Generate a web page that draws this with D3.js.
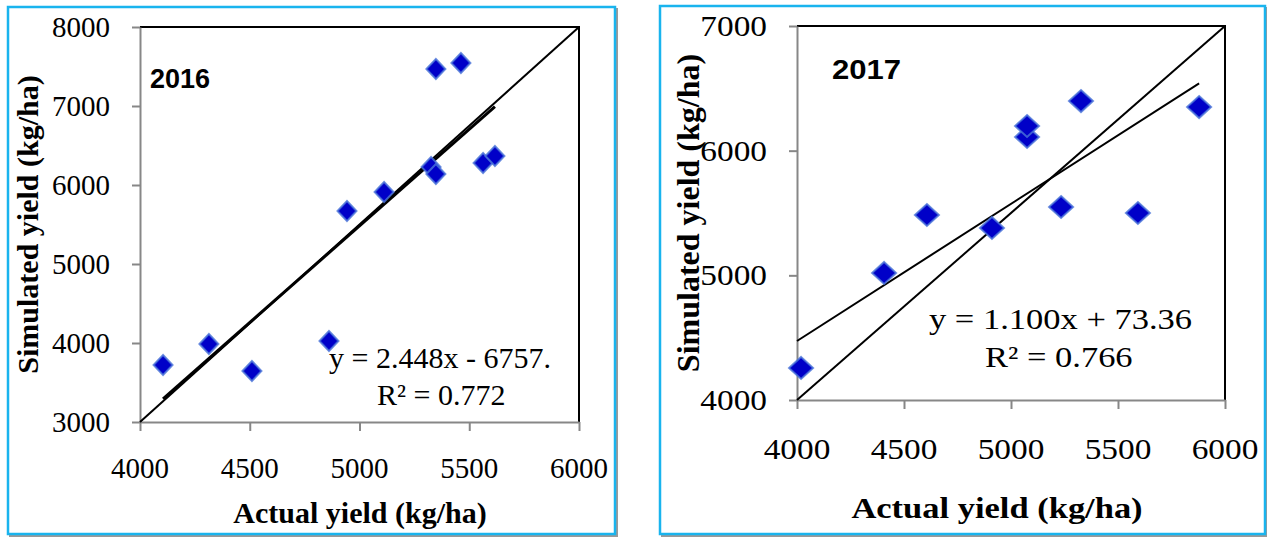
<!DOCTYPE html>
<html>
<head>
<meta charset="utf-8">
<script src="https://cdn.jsdelivr.net/npm/d3@7"></script>
<style>
  body { margin: 0; background: #fff; }
  svg text { font-family: "Liberation Serif", "Times New Roman", serif; fill: #000; }
</style>
</head>
<body>
<svg id="chart" width="1267" height="539"></svg>
<script>
// 2016 season
var actual2016 = [4105, 4314, 4510, 4861, 4943, 5112, 5326, 5348, 5348, 5462, 5563, 5617];
var simulated2016 = [3721, 3987, 3646, 4025, 5671, 5911, 6228, 6139, 7468, 7544, 6278, 6367];
var fit2016 = { slope: 2.448, intercept: -6757 };
var xTicks2016 = [4000, 4500, 5000, 5500, 6000];
var yTicks2016 = [3000, 4000, 5000, 6000, 7000, 8000];

// 2017 season
var actual2017 = [4019, 4407, 4607, 4911, 5075, 5075, 5327, 5234, 5593, 5879];
var simulated2017 = [4257, 5019, 5484, 5380, 6110, 6198, 6398, 5548, 5500, 6350];
var fit2017 = { slope: 1.100, intercept: 73.36 };
var xTicks2017 = [4000, 4500, 5000, 5500, 6000];
var yTicks2017 = [4000, 5000, 6000, 7000];

var svg = d3.select("#chart");

var panels = [
  {
    year: "2016", xs: actual2016, ys: simulated2016, fit: fit2016,
    xTicks: xTicks2016, yTicks: yTicks2016,
    frame: [8, 7, 607, 527],
    plot: { left: 140, right: 579, top: 27, bottom: 422 },
    sx: 1, fs: 29, titleSize: 30, yTitleSize: 30,
    xLabelY: 478, xTitle: [360, 523], yTitleX: 27,
    yearPos: [150, 88, 27],
    eq: ["y = 2.448x - 6757.", 329, 368], r2: ["R² = 0.772", 377, 405],
    diamond: 10, fitWidth: 3, fitFrom: "data"
  },
  {
    year: "2017", xs: actual2017, ys: simulated2017, fit: fit2017,
    xTicks: xTicks2017, yTicks: yTicks2017,
    frame: [660, 6, 605, 528],
    plot: { left: 797, right: 1225, top: 26, bottom: 400 },
    sx: 1.15, fs: 29, titleSize: 30, yTitleSize: 32,
    xLabelY: 459, xTitle: [997, 518], yTitleX: 688,
    yearPos: [832, 79, 27],
    eq: ["y = 1.100x + 73.36", 929, 329], r2: ["R² = 0.766", 985, 367],
    diamond: 11, fitWidth: 2, fitFrom: "axis"
  }
];

panels.forEach(function (p) {
  var x = d3.scaleLinear().domain(d3.extent(p.xTicks)).range([p.plot.left, p.plot.right]);
  var y = d3.scaleLinear().domain(d3.extent(p.yTicks)).range([p.plot.bottom, p.plot.top]);
  var g = svg.append("g");

  // frame with a soft shadow
  var f = p.frame;
  g.append("rect").attr("x", f[0] + 2).attr("y", f[1] + 2).attr("width", f[2]).attr("height", f[3])
    .attr("fill", "none").attr("stroke", "#9a9a9a").attr("stroke-width", 2);
  g.append("rect").attr("x", f[0]).attr("y", f[1]).attr("width", f[2]).attr("height", f[3])
    .attr("fill", "#fff").attr("stroke", "#19b4ee").attr("stroke-width", 2.5);

  // black top and right border of the plot area
  g.append("path")
    .attr("d", "M" + x.range()[0] + "," + y.range()[1] + "H" + x.range()[1] + "V" + y.range()[0])
    .attr("fill", "none").attr("stroke", "#000").attr("stroke-width", 2);

  // axes
  var xAxis = g.append("g").attr("transform", "translate(0," + p.plot.bottom + ")")
    .call(d3.axisBottom(x).tickValues(p.xTicks).tickSize(9).tickSizeOuter(0).tickFormat(""));
  var yAxis = g.append("g").attr("transform", "translate(" + p.plot.left + ",0)")
    .call(d3.axisLeft(y).tickValues(p.yTicks).tickSize(8).tickSizeOuter(0).tickFormat(""));
  [xAxis, yAxis].forEach(function (a) {
    a.select(".domain").attr("stroke", "#878787").attr("stroke-width", 2);
    a.selectAll(".tick line").attr("stroke", "#878787").attr("stroke-width", 2);
  });

  function stretched(sel, tx, ty) {
    return sel.attr("transform", "translate(" + tx + "," + ty + ") scale(" + p.sx + ",1)");
  }

  // tick labels
  p.xTicks.forEach(function (t) {
    stretched(g.append("text"), x(t), p.xLabelY)
      .attr("text-anchor", "middle").style("font-size", p.fs + "px").text(t);
  });
  p.yTicks.forEach(function (t) {
    stretched(g.append("text"), p.plot.left - 30, y(t))
      .attr("text-anchor", "end").attr("dy", "0.35em").style("font-size", p.fs + "px").text(t);
  });

  // titles
  stretched(g.append("text"), p.xTitle[0], p.xTitle[1])
    .attr("text-anchor", "middle").style("font-size", p.titleSize + "px").style("font-weight", "bold")
    .text("Actual yield (kg/ha)");
  g.append("text")
    .attr("transform", "translate(" + p.yTitleX + "," + ((p.plot.top + p.plot.bottom) / 2) + ") rotate(-90)")
    .attr("text-anchor", "middle").attr("dy", "0.35em")
    .style("font-size", p.yTitleSize + "px").style("font-weight", "bold")
    .text("Simulated yield (kg/ha)");

  stretched(g.append("text"), p.yearPos[0], p.yearPos[1])
    .style("font-family", "'Liberation Sans', Arial, sans-serif").style("font-weight", "bold")
    .style("font-size", p.yearPos[2] + "px").text(p.year);

  // diagonal reference line, corner to corner of the plot
  var xd = x.domain(), yd = y.domain();
  g.append("line")
    .attr("x1", x(xd[0])).attr("y1", y(yd[0])).attr("x2", x(xd[1])).attr("y2", y(yd[1]))
    .attr("stroke", "#000").attr("stroke-width", 2);

  // linear trend line
  var xr = [p.fitFrom === "axis" ? xd[0] : d3.min(p.xs), d3.max(p.xs)];
  var line = d3.line().x(function (d) { return x(d); })
    .y(function (d) { return y(p.fit.slope * d + p.fit.intercept); });
  g.append("path").attr("d", line(xr)).attr("fill", "none")
    .attr("stroke", "#000").attr("stroke-width", p.fitWidth);

  // points
  var r = p.diamond;
  var diamond = "M0," + (-r) + "L" + (r * p.sx * 0.95) + ",0L0," + r + "L" + (-r * p.sx * 0.95) + ",0Z";
  g.selectAll(".pt").data(p.xs).enter().append("path")
    .attr("transform", function (d, i) { return "translate(" + x(d) + "," + y(p.ys[i]) + ")"; })
    .attr("d", diamond)
    .attr("fill", "#0000c8").attr("stroke", "#4a74d8").attr("stroke-width", 2).attr("stroke-opacity", 0.8);

  // equation labels
  stretched(g.append("text"), p.eq[1], p.eq[2]).style("font-size", "30px").text(p.eq[0]);
  stretched(g.append("text"), p.r2[1], p.r2[2]).style("font-size", "30px").text(p.r2[0]);
});
</script>
</body>
</html>
